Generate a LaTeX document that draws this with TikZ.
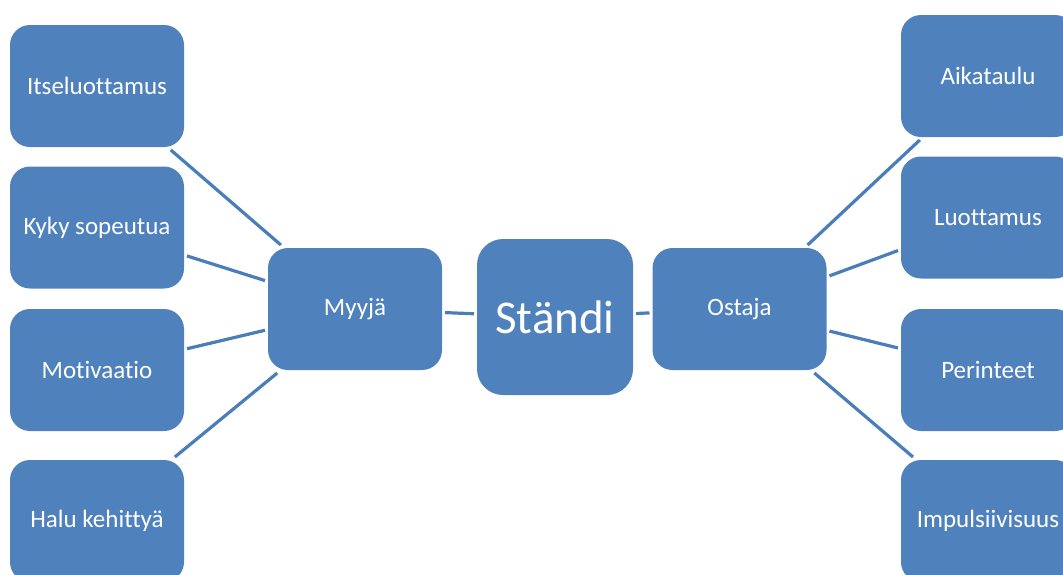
\documentclass[tikz,border=0pt]{standalone}
\usepackage{fontspec}
\setmainfont[Ligatures={NoCommon}]{Carlito}
\definecolor{boxblue}{HTML}{4F81BD}
\definecolor{lineblue}{HTML}{4A7EBB}
\tikzset{
  box/.style={fill=boxblue, text=white, rounded corners=20pt, minimum width=174pt, minimum height=122pt,
    inner sep=0pt, outer sep=3pt, font=\fontsize{25}{30}\selectfont},
  bigbox/.style={box, rounded corners=26pt, minimum width=156pt, minimum height=156pt, font=\fontsize{47}{53}\selectfont},
  link/.style={draw=lineblue, line width=3.2pt}
}
\begin{document}
\begin{tikzpicture}[x=1pt,y=-1pt]
\useasboundingbox (0,0) rectangle (1063,574);
% center
\node[bigbox] (standi) at (555,317) {Ständi};
\node[box] (myyja) at (355,309) {Myyjä};
\node[box] (ostaja) at (739.5,309) {Ostaja};
% left
\node[box] (it) at (97,86) {Itseluottamus};
\node[box] (kyky) at (97,227.5) {Kyky sopeutua};
\node[box] (mot) at (97,370) {Motivaatio};
\node[box] (halu) at (97,521) {Halu kehittyä};
% right
\node[box] (aika) at (988,76) {Aikataulu};
\node[box] (luot) at (988,217.5) {Luottamus};
\node[box] (peri) at (988,370) {Perinteet};
\node[box] (impu) at (988,521) {Impulsiivisuus};
% connectors
\draw[link] (myyja) -- (standi);
\draw[link] (standi) -- (ostaja);
\draw[link] (myyja) -- (it);
\draw[link] (myyja) -- (kyky);
\draw[link] (myyja) -- (mot);
\draw[link] (myyja) -- (halu);
\draw[link] (ostaja) -- (aika);
\draw[link] (ostaja) -- (luot);
\draw[link] (ostaja) -- (peri);
\draw[link] (ostaja) -- (impu);
\end{tikzpicture}
\end{document}
